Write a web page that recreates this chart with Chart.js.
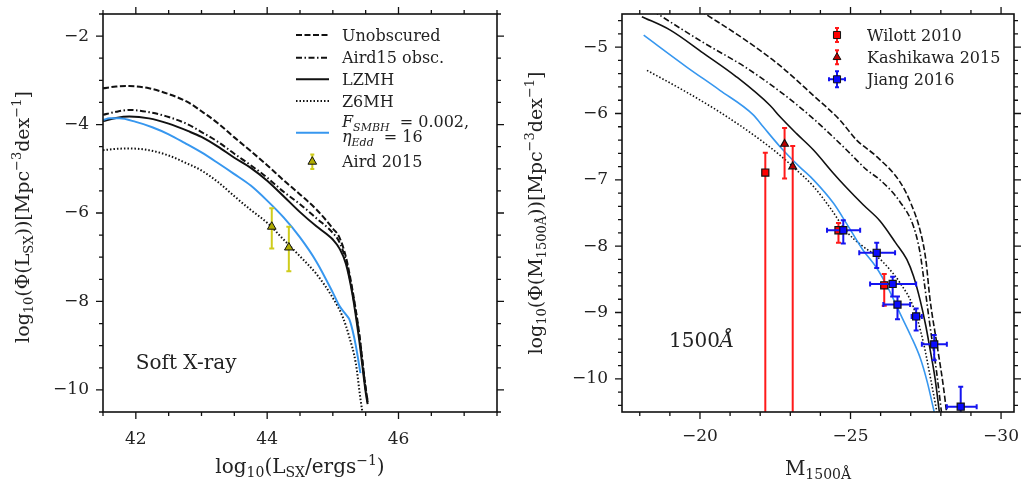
<!DOCTYPE html>
<html>
<head>
<meta charset="utf-8">
<title>Luminosity functions</title>
<script src="https://cdn.jsdelivr.net/npm/chart.js@4.4.1/dist/chart.umd.min.js"></script>
<style>
  body { margin: 0; background: #fff; }
  #wrap { position: relative; width: 1023px; height: 485px; }
  canvas { position: absolute; top: 0; }
</style>
</head>
<body>
<div id="wrap">
  <canvas id="sx" width="512" height="485" style="left:0"></canvas>
  <canvas id="uv" width="511" height="485" style="left:512px"></canvas>
</div>
<script>
// ---- soft X-ray panel ----
const sxTicksX = [42, 44, 46];
const sxTicksY = [-10, -8, -6, -4, -2];

const sxUnobsX = [41.5, 41.7, 41.9, 42.2, 42.5, 42.8, 43.0, 43.25, 43.5, 43.75, 44.0, 44.25, 44.5, 44.75, 45.0, 45.1, 45.2, 45.3, 45.4, 45.5, 45.53];
const sxUnobsY = [-3.18, -3.14, -3.13, -3.18, -3.31, -3.50, -3.70, -3.97, -4.29, -4.60, -4.92, -5.26, -5.58, -5.92, -6.35, -6.55, -7.0, -7.75, -8.70, -9.95, -10.25];

const sxAirdX = [41.5, 41.7, 41.9, 42.2, 42.5, 42.8, 43.0, 43.25, 43.5, 43.75, 44.0, 44.25, 44.5, 44.75, 45.0, 45.1, 45.2, 45.3, 45.4, 45.5, 45.53];
const sxAirdY = [-3.78, -3.71, -3.67, -3.72, -3.83, -4.00, -4.17, -4.39, -4.66, -4.92, -5.20, -5.52, -5.80, -6.12, -6.45, -6.66, -7.08, -7.80, -8.75, -9.98, -10.28];

const sxLzmhX = [41.5, 41.7, 41.9, 42.2, 42.5, 42.8, 43.0, 43.25, 43.5, 43.75, 44.0, 44.25, 44.5, 44.75, 44.9, 45.0, 45.1, 45.2, 45.3, 45.4, 45.5, 45.53];
const sxLzmhY = [-3.92, -3.85, -3.82, -3.86, -3.98, -4.15, -4.28, -4.50, -4.75, -4.98, -5.27, -5.62, -5.98, -6.30, -6.47, -6.60, -6.80, -7.15, -7.85, -8.85, -10.05, -10.32];

const sxZ6X = [41.5, 41.7, 41.9, 42.2, 42.5, 42.75, 43.0, 43.25, 43.5, 43.75, 44.0, 44.25, 44.5, 44.75, 45.0, 45.15, 45.25, 45.35, 45.42, 45.45];
const sxZ6Y = [-4.58, -4.55, -4.54, -4.58, -4.70, -4.86, -5.04, -5.30, -5.62, -5.93, -6.22, -6.60, -6.98, -7.38, -7.92, -8.35, -8.80, -9.40, -10.20, -10.5];

const sxFsmbhX = [41.5, 41.6, 41.75, 42.0, 42.25, 42.5, 42.75, 43.0, 43.25, 43.5, 43.75, 44.0, 44.25, 44.5, 44.75, 45.0, 45.1, 45.2, 45.25, 45.3, 45.35, 45.42];
const sxFsmbhY = [-3.90, -3.86, -3.86, -3.94, -4.06, -4.22, -4.42, -4.63, -4.87, -5.12, -5.38, -5.72, -6.10, -6.55, -7.10, -7.80, -8.10, -8.30, -8.40, -8.65, -9.00, -9.62];

const airdX = [44.07, 44.33];
const airdY = [-6.31, -6.78];
const airdYLo = [-6.80, -7.32];
const airdYHi = [-5.89, -6.31];

const sxLegend = ['Unobscured', 'Aird15 obsc.', 'LZMH', 'Z6MH', 'Aird 2015'];

// ---- 1500A panel ----
const uvTicksX = [-20, -25, -30];
const uvTicksY = [-10, -9, -8, -7, -6, -5];

const uvUnobsX = [-18.1, -20.25, -21.5, -22.66, -23.77, -24.65, -25.2, -25.87, -26.64, -27.0, -27.31, -27.5, -27.64, -27.86, -28.08, -28.19];
const uvUnobsY = [-3.9, -4.52, -4.89, -5.28, -5.73, -6.10, -6.40, -6.65, -7.03, -7.35, -7.76, -8.2, -8.8, -9.45, -10.1, -10.5];

const uvAirdX = [-18.1, -18.67, -20.11, -21.5, -22.66, -23.77, -24.87, -25.54, -25.98, -26.64, -27.09, -27.31, -27.42, -27.64, -27.86, -28.02];
const uvAirdY = [-4.35, -4.52, -4.93, -5.30, -5.67, -6.08, -6.55, -6.85, -7.0, -7.33, -7.70, -8.1, -8.45, -9.2, -9.9, -10.5];

const uvLzmhX = [-18.07, -19.0, -20.11, -21.22, -22.33, -22.66, -23.2, -23.77, -24.43, -24.87, -25.43, -25.98, -26.5, -26.87, -27.09, -27.31, -27.5, -27.64, -27.81, -27.95];
const uvLzmhY = [-4.54, -4.74, -5.09, -5.45, -5.88, -6.05, -6.30, -6.55, -6.90, -7.12, -7.38, -7.62, -7.95, -8.2, -8.45, -8.81, -9.2, -9.55, -10.0, -10.5];

const uvZ6X = [-18.24, -19.56, -20.66, -21.77, -22.66, -23.08, -23.77, -24.32, -24.87, -25.4, -25.87, -26.3, -26.64, -27.09, -27.42, -27.64, -27.87];
const uvZ6Y = [-5.35, -5.68, -5.98, -6.32, -6.63, -6.80, -7.10, -7.42, -7.78, -8.0, -8.15, -8.35, -8.55, -8.92, -9.45, -9.95, -10.5];

const uvFsmbhX = [-18.13, -19.56, -20.66, -21.77, -22.1, -22.66, -23.3, -23.77, -24.43, -24.87, -25.4, -25.87, -26.27, -26.64, -27.0, -27.31, -27.55, -27.78];
const uvFsmbhY = [-4.82, -5.30, -5.65, -6.02, -6.20, -6.50, -6.80, -7.0, -7.35, -7.66, -8.05, -8.33, -8.65, -9.01, -9.35, -9.68, -10.05, -10.5];

const wilottX = [-22.17, -24.6, -26.12];
const wilottY = [-6.89, -7.76, -8.59];
const wilottYLo = [-11.5, -7.95, -8.90];
const wilottYHi = [-6.59, -7.65, -8.42];

const kashiX = [-22.81, -23.08];
const kashiY = [-6.46, -6.80];
const kashiYLo = [-6.98, -11.5];
const kashiYHi = [-6.22, -6.49];

const jiangX = [-24.76, -25.87, -26.40, -26.56, -27.18, -27.78, -28.66];
const jiangY = [-7.76, -8.10, -8.57, -8.88, -9.06, -9.48, -10.42];
const jiangXLo = [-24.22, -25.29, -25.65, -26.09, -27.03, -27.37, -28.2];
const jiangXHi = [-25.32, -26.48, -27.18, -26.98, -27.37, -28.2, -29.19];
const jiangYLo = [-7.96, -8.33, -8.76, -9.10, -9.27, -9.72, -11.5];
const jiangYHi = [-7.61, -7.95, -8.46, -8.76, -8.94, -9.34, -10.12];

const uvLegend = ['Wilott 2010', 'Kashikawa 2015', 'Jiang 2016'];

const SERIF = "'DejaVu Serif', serif";
const INK = '#222';
const BLUE = '#3797ef';
const DASH = [6, 2.5];
const DASHDOT = [6, 2.5, 1.5, 2.5];
const DOT = [1.5, 2];

const pts = (xs, ys) => xs.map((x, i) => ({ x, y: ys[i] }));
const minus = v => (v < 0 ? '\u2212' : '') + Math.abs(v);

function curve(xs, ys, dash, width, color) {
  return {
    type: 'line', data: pts(xs, ys), borderColor: color || '#111', borderWidth: width,
    borderDash: dash, pointRadius: 0, fill: false, cubicInterpolationMode: 'monotone'
  };
}

// text with sub/superscripts. flags: i italic, b subscript, p superscript
function rich(ctx, parts, x, y, size, align) {
  const fontOf = f => (f.includes('i') ? 'italic ' : '') +
    Math.round((f.includes('b') || f.includes('p') ? 0.7 : 1) * size) + 'px ' + SERIF;
  let w = 0;
  parts.forEach(([t, f]) => { ctx.font = fontOf(f); w += ctx.measureText(t).width; });
  let cx = align === 'center' ? x - w / 2 : align === 'right' ? x - w : x;
  ctx.textAlign = 'left';
  ctx.textBaseline = 'alphabetic';
  parts.forEach(([t, f]) => {
    ctx.font = fontOf(f);
    const dy = f.includes('b') ? 0.22 * size : f.includes('p') ? -0.4 * size : 0;
    ctx.fillText(t, cx, y + dy);
    cx += ctx.measureText(t).width;
  });
}

function marker(ctx, style, x, y, r, fill) {
  ctx.beginPath();
  if (style === 'rect') {
    const s = r * Math.SQRT1_2;
    ctx.rect(x - s, y - s, 2 * s, 2 * s);
  } else {
    for (let k = 0; k < 3; k++) {
      const a = k * 2 * Math.PI / 3;
      ctx[k ? 'lineTo' : 'moveTo'](x + Math.sin(a) * r, y - Math.cos(a) * r);
    }
    ctx.closePath();
  }
  ctx.fillStyle = fill;
  ctx.fill();
  ctx.strokeStyle = '#111';
  ctx.lineWidth = 1;
  ctx.stroke();
}

function bar(ctx, x1, y1, x2, y2, cap) {
  ctx.beginPath();
  ctx.moveTo(x1, y1); ctx.lineTo(x2, y2);
  if (x1 === x2) {
    ctx.moveTo(x1 - cap, y1); ctx.lineTo(x1 + cap, y1);
    ctx.moveTo(x2 - cap, y2); ctx.lineTo(x2 + cap, y2);
  } else {
    ctx.moveTo(x1, y1 - cap); ctx.lineTo(x1, y1 + cap);
    ctx.moveTo(x2, y2 - cap); ctx.lineTo(x2, y2 + cap);
  }
  ctx.stroke();
}

// error bars, drawn right before their own points
const errPlugin = {
  id: 'errbars',
  beforeDatasetDraw(chart, args) {
    const ds = chart.data.datasets[args.index];
    if (!ds.err) return;
    const { ctx, chartArea: a, scales: { x, y } } = chart;
    ctx.save();
    ctx.beginPath();
    ctx.rect(a.left, a.top, a.right - a.left, a.bottom - a.top);
    ctx.clip();
    ctx.strokeStyle = ds.err.color;
    ctx.lineWidth = 2;
    ds.data.forEach((p, i) => {
      const px = x.getPixelForValue(p.x), py = y.getPixelForValue(p.y);
      if (ds.err.yLo) bar(ctx, px, y.getPixelForValue(ds.err.yHi[i]), px, y.getPixelForValue(ds.err.yLo[i]), 2.5);
      if (ds.err.xLo) bar(ctx, x.getPixelForValue(ds.err.xLo[i]), py, x.getPixelForValue(ds.err.xHi[i]), py, 2.5);
    });
    ctx.restore();
  }
};

// box and outward ticks on all four sides
const framePlugin = {
  id: 'frame',
  afterDatasetsDraw(chart, args, opts) {
    const { ctx, chartArea: a, scales: { x, y } } = chart;
    const minors = (s, step) => {
      const lo = Math.min(s.min, s.max), hi = Math.max(s.min, s.max);
      const out = [];
      for (let k = Math.ceil(lo / step - 1e-9); k * step <= hi + 1e-9; k++) out.push(k * step);
      return out;
    };
    ctx.save();
    ctx.strokeStyle = '#111';
    ctx.lineWidth = 1.6;
    ctx.strokeRect(a.left, a.top, a.right - a.left, a.bottom - a.top);
    ctx.lineWidth = 1.3;
    ctx.beginPath();
    const xs = [...x.ticks.map(t => [t.value, 7]), ...minors(x, opts.minorX).map(v => [v, 4])];
    xs.forEach(([v, len]) => {
      const p = x.getPixelForValue(v);
      ctx.moveTo(p, a.bottom); ctx.lineTo(p, a.bottom + len);
      ctx.moveTo(p, a.top); ctx.lineTo(p, a.top - len);
    });
    const ys = [...y.ticks.map(t => [t.value, 7]), ...minors(y, opts.minorY).map(v => [v, 4])];
    ys.forEach(([v, len]) => {
      const p = y.getPixelForValue(v);
      ctx.moveTo(a.left, p); ctx.lineTo(a.left - len, p);
      ctx.moveTo(a.right, p); ctx.lineTo(a.right + len, p);
    });
    ctx.stroke();
    ctx.restore();
  }
};

function axis(min, max, ticks, size, pad, reverse) {
  return {
    type: 'linear', min, max, reverse: !!reverse,
    afterBuildTicks: s => { s.ticks = ticks.map(v => ({ value: v })); },
    afterFit: s => {
      if (s.isHorizontal()) s.height = size; else s.width = size;
      s.paddingLeft = s.paddingRight = s.paddingTop = s.paddingBottom = 0;
    },
    grid: { display: false, drawTicks: false },
    border: { display: false },
    ticks: {
      padding: pad, color: INK, font: { family: SERIF, size: 17 },
      callback: v => minus(v), maxRotation: 0, autoSkip: false
    }
  };
}

function legendLine(ctx, x1, x2, y, dash, color, width) {
  ctx.save();
  ctx.strokeStyle = color;
  ctx.lineWidth = width;
  ctx.setLineDash(dash);
  ctx.beginPath();
  ctx.moveTo(x1, y); ctx.lineTo(x2, y);
  ctx.stroke();
  ctx.restore();
}

function drawSX(chart) {
  const { ctx, scales: { x, y } } = chart;
  ctx.save();
  ctx.fillStyle = INK;
  ctx.save();
  ctx.translate(29, 217);
  ctx.rotate(-Math.PI / 2);
  rich(ctx, [['log', ''], ['10', 'b'], ['(\u03A6(L', ''], ['SX', 'b'], ['))[Mpc', ''], ['\u22123', 'p'], ['dex', ''], ['\u22121', 'p'], [']', '']], 0, 0, 19, 'center');
  ctx.restore();
  rich(ctx, [['log', ''], ['10', 'b'], ['(L', ''], ['SX', 'b'], ['/ergs', ''], ['\u22121', 'p'], [')', '']], 300, 473, 20, 'center');
  rich(ctx, [['Soft X-ray', '']], x.getPixelForValue(42.0), y.getPixelForValue(-9.37) + 7, 20, 'left');

  const lx1 = 296, lx2 = 329, tx = 342;
  const rows = [35, 57.7, 79.3, 101];
  const styles = [DASH, DASHDOT, [], DOT];
  rows.forEach((ry, i) => {
    legendLine(ctx, lx1, lx2, ry, styles[i], '#111', 2);
    ctx.fillStyle = INK;
    rich(ctx, [[sxLegend[i], '']], tx, ry + 5.5, 16, 'left');
  });
  legendLine(ctx, lx1, lx2, 132.7, [], BLUE, 2);
  ctx.fillStyle = INK;
  rich(ctx, [['F', 'i'], ['SMBH', 'ib'], ['  = 0.002,', '']], tx, 127, 16, 'left');
  rich(ctx, [['\u03B7', 'i'], ['Edd', 'ib'], ['  = 16', '']], tx, 142, 16, 'left');
  ctx.strokeStyle = '#cfcc1c';
  ctx.lineWidth = 2;
  bar(ctx, 312.3, 154.5, 312.3, 169, 2);
  marker(ctx, 'triangle', 312.3, 161.7, 5, '#b0ac00');
  ctx.fillStyle = INK;
  rich(ctx, [[sxLegend[4], '']], tx, 161.7 + 5.5, 16, 'left');
  ctx.restore();
}

function drawUV(chart) {
  const { ctx, scales: { x, y } } = chart;
  ctx.save();
  ctx.fillStyle = INK;
  ctx.save();
  ctx.translate(30, 213);
  ctx.rotate(-Math.PI / 2);
  rich(ctx, [['log', ''], ['10', 'b'], ['(\u03A6(M', ''], ['1500\u00C5', 'b'], ['))[Mpc', ''], ['\u22123', 'p'], ['dex', ''], ['\u22121', 'p'], [']', '']], 0, 0, 19, 'center');
  ctx.restore();
  rich(ctx, [['M', ''], ['1500\u00C5', 'b']], 306, 475, 20, 'center');
  rich(ctx, [['1500', ''], ['\u00C5', 'i']], x.getPixelForValue(-18.97), y.getPixelForValue(-9.41) + 7, 20, 'left');

  const mx = 325, tx = 355;
  const rows = [35, 57.3, 79.3];
  ctx.lineWidth = 2;
  ctx.strokeStyle = '#ff1a1a';
  bar(ctx, mx, rows[0] - 7, mx, rows[0] + 7, 2);
  marker(ctx, 'rect', mx, rows[0], 5, '#ff0000');
  ctx.lineWidth = 2;
  ctx.strokeStyle = '#ff1a1a';
  bar(ctx, mx, rows[1] - 7, mx, rows[1] + 7, 2);
  marker(ctx, 'triangle', mx, rows[1], 4.5, '#c00000');
  ctx.lineWidth = 2;
  ctx.strokeStyle = '#1414f0';
  bar(ctx, mx, rows[2] - 8, mx, rows[2] + 8, 2);
  bar(ctx, mx - 8, rows[2], mx + 8, rows[2], 2);
  marker(ctx, 'rect', mx, rows[2], 5, '#0a0aff');
  ctx.fillStyle = INK;
  rows.forEach((ry, i) => rich(ctx, [[uvLegend[i], '']], tx, ry + 5.5, 16, 'left'));
  ctx.restore();
}

const baseOptions = (xScale, yScale, padRight, minorX, minorY) => ({
  responsive: false,
  animation: false,
  events: [],
  layout: { padding: { top: 14, right: padRight, left: 0, bottom: 0 } },
  plugins: { legend: { display: false }, tooltip: { enabled: false }, frame: { minorX, minorY } },
  scales: { x: xScale, y: yScale }
});

new Chart(document.getElementById('sx'), {
  type: 'scatter',
  data: {
    datasets: [
      { data: pts(airdX, airdY), pointStyle: 'triangle', pointRadius: 5, backgroundColor: '#b0ac00',
        borderColor: '#111', borderWidth: 1, err: { color: '#cfcc1c', yLo: airdYLo, yHi: airdYHi } },
      curve(sxFsmbhX, sxFsmbhY, [], 2, BLUE),
      curve(sxLzmhX, sxLzmhY, [], 2),
      curve(sxAirdX, sxAirdY, DASHDOT, 2),
      curve(sxUnobsX, sxUnobsY, DASH, 2),
      curve(sxZ6X, sxZ6Y, DOT, 2)
    ]
  },
  options: baseOptions(axis(41.5, 47.5, sxTicksX, 73, 17), axis(-10.5, -1.5, sxTicksY, 103, 14), 15, 0.5, 0.5),
  plugins: [errPlugin, framePlugin, { id: 'decoSX', afterDraw: drawSX }]
});

new Chart(document.getElementById('uv'), {
  type: 'scatter',
  data: {
    datasets: [
      { data: pts(jiangX, jiangY), pointStyle: 'rect', pointRadius: 5, backgroundColor: '#0a0aff',
        borderColor: '#111', borderWidth: 1.2,
        err: { color: '#1414f0', yLo: jiangYLo, yHi: jiangYHi, xLo: jiangXLo, xHi: jiangXHi } },
      { data: pts(kashiX, kashiY), pointStyle: 'triangle', pointRadius: 4.5, backgroundColor: '#c00000',
        borderColor: '#111', borderWidth: 1.2, err: { color: '#ff1a1a', yLo: kashiYLo, yHi: kashiYHi } },
      { data: pts(wilottX, wilottY), pointStyle: 'rect', pointRadius: 5, backgroundColor: '#ff0000',
        borderColor: '#111', borderWidth: 1.2, err: { color: '#ff1a1a', yLo: wilottYLo, yHi: wilottYHi } },
      curve(uvFsmbhX, uvFsmbhY, [], 1.6, BLUE),
      curve(uvLzmhX, uvLzmhY, [], 1.6),
      curve(uvAirdX, uvAirdY, DASHDOT, 1.6),
      curve(uvUnobsX, uvUnobsY, DASH, 1.6),
      curve(uvZ6X, uvZ6Y, DOT, 1.6)
    ]
  },
  options: baseOptions(axis(-30.43, -17.41, uvTicksX, 73, 14, true), axis(-10.5, -4.5, uvTicksY, 110, 14), 9, 1, 0.2),
  plugins: [errPlugin, framePlugin, { id: 'decoUV', afterDraw: drawUV }]
});
</script>
</body>
</html>
